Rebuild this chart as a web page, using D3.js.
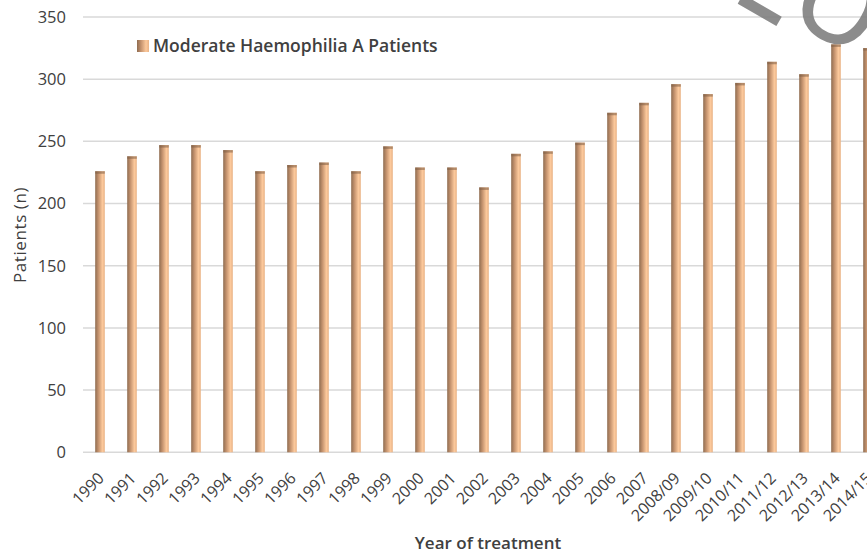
<!DOCTYPE html>
<html>
<head>
<meta charset="utf-8">
<script src="https://cdn.jsdelivr.net/npm/d3@7"></script>
<style>
  body { margin: 0; background: #fff; }
  text { font-family: "Open Sans", "Liberation Sans", sans-serif; fill: #404040; }
</style>
</head>
<body>
<div id="chart"></div>
<script>
// years of treatment and patient counts
var years = ["1990","1991","1992","1993","1994","1995","1996","1997","1998","1999",
             "2000","2001","2002","2003","2004","2005","2006","2007",
             "2008/09","2009/10","2010/11","2011/12","2012/13","2013/14","2014/15"];
var patients = [226, 238, 247, 247, 243, 226, 231, 233, 226, 246,
                229, 229, 213, 240, 242, 249, 273, 281,
                296, 288, 297, 314, 304, 328, 325];
var yTicks = [0, 50, 100, 150, 200, 250, 300, 350];
var seriesName = "Moderate Haemophilia A Patients";

var width = 867, height = 553;
var margin = {top: 17, left: 83, bottom: 101};

var data = years.map(function(d, i) { return {year: d, value: patients[i]}; });

var svg = d3.select("#chart")
    .append("svg")
    .attr("width", width)
    .attr("height", height);

var defs = svg.append("defs");
var grad = defs.append("linearGradient")
    .attr("id", "barGrad")
    .attr("x1", "0%").attr("x2", "100%")
    .attr("y1", "0%").attr("y2", "0%");
grad.append("stop").attr("offset", "0%").attr("stop-color", "#8f6c50");
grad.append("stop").attr("offset", "35%").attr("stop-color", "#c79570");
grad.append("stop").attr("offset", "75%").attr("stop-color", "#fcc99c");
grad.append("stop").attr("offset", "100%").attr("stop-color", "#e9b386");

var x = d3.scaleBand()
    .domain(years)
    .range([margin.left + 1, margin.left + 1 + 800])
    .paddingInner(0.7)
    .paddingOuter(0.35);

var y = d3.scaleLinear()
    .domain([0, 350])
    .range([height - margin.bottom + 0.3, margin.top]);

// gridlines
svg.append("g")
    .selectAll("line")
    .data(yTicks)
    .enter()
    .append("line")
    .attr("x1", margin.left)
    .attr("x2", width)
    .attr("y1", function(d) { return y(d); })
    .attr("y2", function(d) { return y(d); })
    .style("stroke", "#d9d9d9")
    .style("stroke-width", 1.5);

// y tick labels
svg.append("g")
    .selectAll("text")
    .data(yTicks)
    .enter()
    .append("text")
    .attr("x", 66)
    .attr("y", function(d) { return y(d); })
    .attr("dy", "0.35em")
    .attr("text-anchor", "end")
    .style("font-size", "16.5px")
    .text(function(d) { return d; });

// bars
svg.append("g")
    .selectAll("rect")
    .data(data)
    .enter()
    .append("rect")
    .attr("x", function(d) { return x(d.year); })
    .attr("y", function(d) { return y(d.value); })
    .attr("width", x.bandwidth())
    .attr("height", function(d) { return y(0) - y(d.value); })
    .style("fill", "url(#barGrad)");

// darker caps on bar tops
svg.append("g")
    .selectAll("rect")
    .data(data)
    .enter()
    .append("rect")
    .attr("x", function(d) { return x(d.year); })
    .attr("y", function(d) { return y(d.value); })
    .attr("width", x.bandwidth())
    .attr("height", 2.5)
    .style("fill", "#7d5c43")
    .style("opacity", 0.55);

// x tick labels
svg.append("g")
    .selectAll("text")
    .data(years)
    .enter()
    .append("text")
    .attr("text-anchor", "end")
    .attr("transform", function(d) {
        return "translate(" + (x(d) + x.bandwidth() / 2 + 5) + "," + (y(0) + 27) + ") rotate(-45)";
    })
    .style("font-size", "16px")
    .text(function(d) { return d; });

// axis titles
svg.append("text")
    .attr("x", 488)
    .attr("y", 549)
    .attr("text-anchor", "middle")
    .style("font-size", "17px")
    .style("font-weight", "600")
    .text("Year of treatment");

svg.append("text")
    .attr("transform", "translate(26,235) rotate(-90)")
    .attr("text-anchor", "middle")
    .style("font-size", "17px")
    .style("letter-spacing", "0.6px")
    .text("Patients (n)");

// legend
var legend = svg.append("g").attr("transform", "translate(137,40)");
legend.append("rect")
    .attr("width", 12)
    .attr("height", 12)
    .style("fill", "url(#barGrad)");
legend.append("text")
    .attr("x", 16)
    .attr("y", 6)
    .attr("dy", "0.35em")
    .style("font-size", "17.5px")
    .style("font-weight", "600")
    .text(seriesName);

// watermark fragment in the corner
var mark = svg.append("g")
    .style("font-family", "Liberation Sans, sans-serif")
    .style("font-size", "104px")
    .style("opacity", 0.9);
mark.append("text")
    .attr("transform", "translate(731,-2) rotate(30)")
    .style("fill", "#808080")
    .style("stroke", "#808080")
    .style("stroke-width", 3)
    .text("L");
mark.append("text")
    .attr("transform", "translate(736,-12) rotate(30)")
    .attr("dx", 58)
    .style("fill", "#808080")
    .style("stroke", "#808080")
    .style("stroke-width", 2)
    .text("O");
</script>
</body>
</html>
